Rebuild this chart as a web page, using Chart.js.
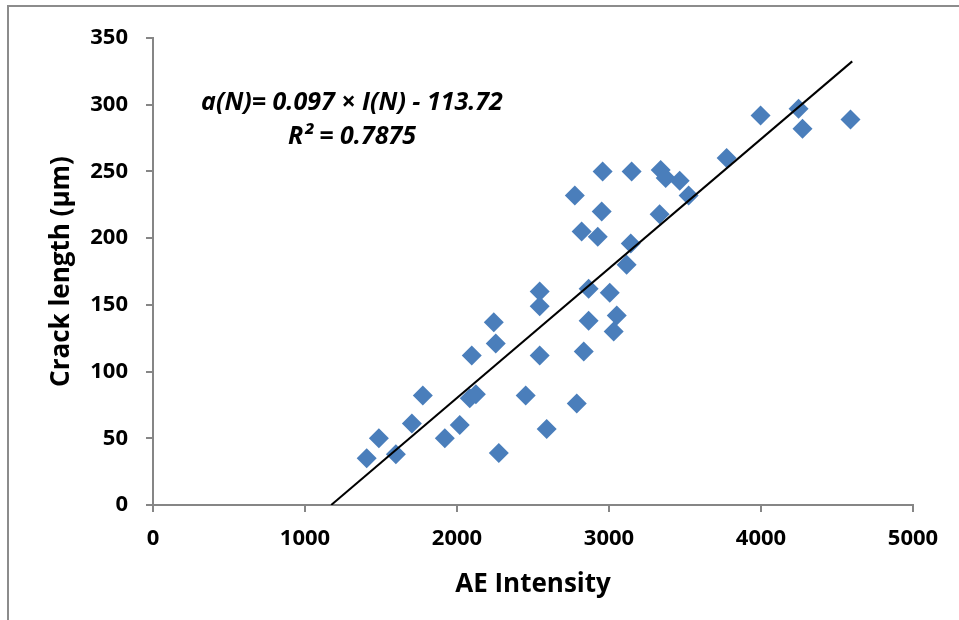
<!DOCTYPE html>
<html>
<head>
<meta charset="utf-8">
<script src="https://cdn.jsdelivr.net/npm/chart.js@4.4.1/dist/chart.umd.min.js"></script>
<style>
  html, body { margin: 0; padding: 0; background: #fff; overflow: hidden; }
  #wrap { position: relative; width: 959px; height: 620px; }
  #frame { position: absolute; left: 7px; top: 5px; width: 1200px; height: 1200px;
           border-left: 2px solid #8c8c8c; border-top: 2px solid #8c8c8c; box-sizing: border-box; }
  canvas { position: absolute; left: 0; top: 0; }
</style>
</head>
<body>
<div id="wrap">
  <div id="frame"></div>
  <canvas id="c" width="959" height="620"></canvas>
</div>
<script>
// Data
const aeIntensity = [1406, 1486, 1598, 1703, 1775, 1920, 2018, 2097, 2084, 2124, 2242, 2255, 2275, 2452,
  2544, 2544, 2544, 2590, 2788, 2775, 2820, 2834, 2866, 2866, 2926, 2952, 2958, 3005, 3031, 3051,
  3116, 3143, 3149, 3333, 3340, 3373, 3465, 3524, 3774, 3997, 4247, 4273, 4589];
const crackLength = [35, 50, 38, 61, 82, 50, 60, 112, 80, 83, 137, 121, 39, 82,
  112, 149, 160, 57, 76, 232, 205, 115, 138, 162, 201, 220, 250, 159, 130, 142,
  180, 196, 250, 218, 251, 245, 243, 232, 260, 292, 297, 282, 289];
const fitSlope = 0.097;
const fitIntercept = -113.72;
const fitRange = [1172.4, 4600];
const xTicks = [0, 1000, 2000, 3000, 4000, 5000];
const yTicks = [0, 50, 100, 150, 200, 250, 300, 350];
const equationLines = ["a(N)= 0.097 \u00d7 I(N) - 113.72", "R\u00b2 = 0.7875"];

const points = aeIntensity.map((x, i) => ({ x: x, y: crackLength[i] }));
const fitLine = fitRange.map(x => ({ x: x, y: fitSlope * x + fitIntercept }));

const FONT = "'Open Sans', 'DejaVu Sans', sans-serif";
const axisGray = '#868686';

const equationPlugin = {
  id: 'equation',
  afterDraw(chart) {
    const ctx = chart.ctx;
    ctx.save();
    ctx.fillStyle = '#000';
    ctx.font = "italic bold 25px " + FONT;
    ctx.textAlign = 'center';
    ctx.textBaseline = 'middle';
    ctx.fillText(equationLines[0], 352, 103);
    ctx.fillText(equationLines[1], 352, 137);
    ctx.restore();
  }
};

new Chart(document.getElementById('c'), {
  type: 'scatter',
  data: {
    datasets: [
      {
        label: 'Data',
        data: points,
        pointStyle: 'rectRot',
        pointRadius: 10,
        pointHoverRadius: 10,
        backgroundColor: '#4A7EBB',
        borderColor: '#4A7EBB',
        borderWidth: 0,
        order: 2
      },
      {
        label: 'Fit',
        type: 'line',
        data: fitLine,
        borderColor: '#000',
        borderWidth: 2,
        pointRadius: 0,
        fill: false,
        order: 1
      }
    ]
  },
  options: {
    responsive: false,
    animation: false,
    events: [],
    layout: { padding: { left: 40, top: 38, right: 46, bottom: 16 } },
    plugins: { legend: { display: false }, tooltip: { enabled: false } },
    scales: {
      x: {
        type: 'linear',
        min: 0, max: 5000,
        afterBuildTicks(axis) { axis.ticks = xTicks.map(v => ({ value: v })); },
        afterFit(axis) { axis.height = 99; },
        border: { display: true, color: axisGray, width: 2 },
        grid: { display: true, drawOnChartArea: false, drawTicks: true, tickLength: 7, color: axisGray, lineWidth: 2 },
        ticks: { color: '#000', font: { family: FONT, size: 22, weight: 'bold' }, padding: 14, maxRotation: 0,
                 callback: v => String(v) },
        title: { display: true, text: 'AE Intensity', color: '#000', font: { family: FONT, size: 26, weight: 'bold' }, padding: { top: 8 } }
      },
      y: {
        type: 'linear',
        min: 0, max: 350,
        afterBuildTicks(axis) { axis.ticks = yTicks.map(v => ({ value: v })); },
        afterFit(axis) { axis.width = 113; },
        border: { display: true, color: axisGray, width: 2 },
        grid: { display: true, drawOnChartArea: false, drawTicks: true, tickLength: 7, color: axisGray, lineWidth: 2 },
        ticks: { color: '#000', font: { family: FONT, size: 22, weight: 'bold' }, padding: 18,
                 callback: v => String(v) },
        title: { display: true, text: 'Crack length (\u03bcm)', color: '#000', font: { family: FONT, size: 26, weight: 'bold' }, padding: { top: 6, bottom: 6 } }
      }
    }
  },
  plugins: [equationPlugin]
});
</script>
</body>
</html>
